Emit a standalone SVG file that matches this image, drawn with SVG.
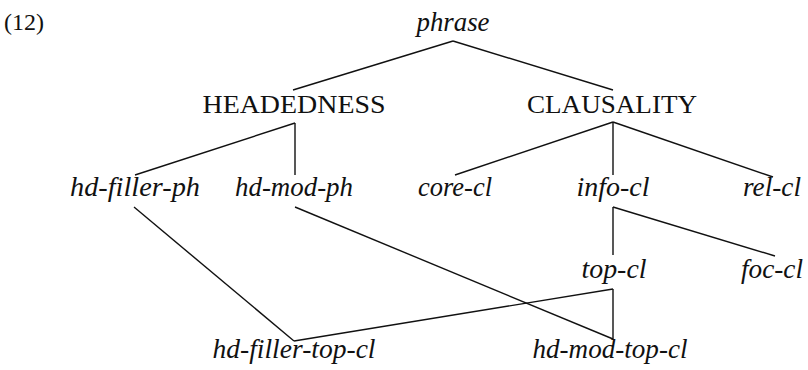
<svg xmlns="http://www.w3.org/2000/svg" width="808" height="370" viewBox="0 0 808 370">
<style>
text{font-family:"Liberation Serif","DejaVu Serif",serif;fill:#111;text-anchor:middle}
.it{font-size:27px;font-style:italic}
.cap{font-size:26px}
.num{font-size:24px;text-anchor:start}
.edges line{stroke:#111;stroke-width:1.4;fill:none}
</style>
<rect width="808" height="370" fill="#fff"/>
<text class="num" x="4" y="30">(12)</text>
<g class="edges">
<line x1="453" y1="41" x2="293" y2="90"/>
<line x1="453" y1="41" x2="613" y2="90"/>
<line x1="295" y1="123" x2="135" y2="175"/>
<line x1="295" y1="123" x2="295" y2="175"/>
<line x1="613" y1="122" x2="455" y2="175"/>
<line x1="613" y1="122" x2="613" y2="175"/>
<line x1="613" y1="122" x2="773" y2="177"/>
<line x1="613" y1="207" x2="613" y2="255"/>
<line x1="613" y1="207" x2="775" y2="256"/>
<line x1="134" y1="207" x2="294" y2="341"/>
<line x1="295" y1="207" x2="613" y2="339"/>
<line x1="613" y1="289" x2="294" y2="341"/>
<line x1="613" y1="289" x2="613" y2="339"/>
</g>
<g id="phrase"><text class="it" x="453" y="31" textLength="73" lengthAdjust="spacingAndGlyphs">phrase</text></g>
<g id="headedness"><text class="cap" x="294" y="113" textLength="183" lengthAdjust="spacingAndGlyphs">HEADEDNESS</text></g>
<g id="clausality"><text class="cap" x="612" y="113" textLength="170" lengthAdjust="spacingAndGlyphs">CLAUSALITY</text></g>
<g id="hd-filler-ph"><text class="it" x="135" y="196" textLength="130" lengthAdjust="spacingAndGlyphs">hd-filler-ph</text></g>
<g id="hd-mod-ph"><text class="it" x="294" y="196" textLength="118" lengthAdjust="spacingAndGlyphs">hd-mod-ph</text></g>
<g id="core-cl"><text class="it" x="455" y="196" textLength="74" lengthAdjust="spacingAndGlyphs">core-cl</text></g>
<g id="info-cl"><text class="it" x="613" y="196" textLength="73" lengthAdjust="spacingAndGlyphs">info-cl</text></g>
<g id="rel-cl"><text class="it" x="772" y="196" textLength="58" lengthAdjust="spacingAndGlyphs">rel-cl</text></g>
<g id="top-cl"><text class="it" x="614" y="278" textLength="65" lengthAdjust="spacingAndGlyphs">top-cl</text></g>
<g id="foc-cl"><text class="it" x="772" y="278" textLength="62" lengthAdjust="spacingAndGlyphs">foc-cl</text></g>
<g id="hd-filler-top-cl"><text class="it" x="294" y="358" textLength="163" lengthAdjust="spacingAndGlyphs">hd-filler-top-cl</text></g>
<g id="hd-mod-top-cl"><text class="it" x="610" y="358" textLength="155" lengthAdjust="spacingAndGlyphs">hd-mod-top-cl</text></g>
</svg>
